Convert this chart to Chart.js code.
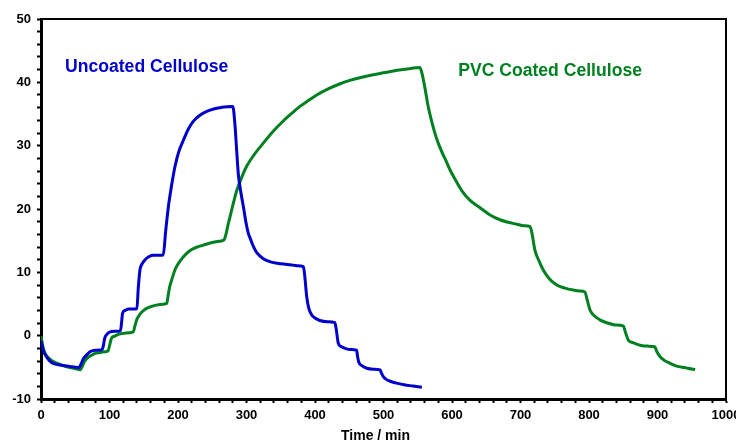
<!DOCTYPE html>
<html>
<head>
<meta charset="utf-8">
<script src="https://cdn.jsdelivr.net/npm/chart.js@4.4.1/dist/chart.umd.min.js"></script>
<style>
  html, body { margin: 0; padding: 0; background: #ffffff; }
  #wrap { width: 736px; height: 443px; position: relative; }
</style>
</head>
<body>
<div id="wrap"><canvas id="c" width="736" height="443"></canvas></div>
<script>
// ---- Data ----
const uncoatedTime = [0,3,6,12,18,28,38,48,55,58,62,67,72,80,89,91,93,97,101,108,116,118,119,123,128,134,140,142,144.5,148,152,158,164,172,178.5,182,186,190,195.6,201,208,215,222,232,242,252,264,272,280,283,285.5,288,291.5,295.4,299,302.6,306,310,315,324,334,345,355,364,374,383,385,387.9,391,395,400,407,418,429,431,434,438,444,452,460.8,462,464,468,475.5,485,495,497,500,504,510,519,530,543,556];
const uncoatedValue = [-0.8,-2.2,-3.0,-3.9,-4.4,-4.65,-4.8,-4.95,-5.05,-4.6,-3.6,-3.0,-2.5,-2.3,-2.2,-1.6,-0.4,0.3,0.6,0.7,0.75,2.5,3.5,4.0,4.2,4.2,4.25,7.5,10.4,11.4,12.0,12.5,12.7,12.7,12.75,16.5,20.4,23.3,26.7,29.0,30.9,32.6,33.8,34.8,35.4,35.8,36.05,36.15,36.2,33.5,29.5,25.6,22.8,20.4,18.0,16.2,15.2,14.1,13.1,12.2,11.7,11.45,11.3,11.2,11.05,10.9,9.5,6.15,4.3,3.3,2.8,2.4,2.2,2.05,1.0,-1.2,-1.7,-2.0,-2.2,-2.3,-3.2,-4.2,-4.7,-5.15,-5.3,-5.4,-5.9,-6.5,-6.9,-7.2,-7.5,-7.75,-7.95,-8.15];

const pvcTime = [0,3,6,12,18,28,38,48,57,60,63,67,72,79,88,98,100,103,107,113,122,134.8,137,140,142,146,150,154,162,172,183.5,186,188,190.8,195.6,200,206,212.7,220,228,237,250,260,267,270,273,276,281,286,293,300,310,324.5,340,353.7,366,378,390,402.5,420,435,451,470,485,500,520,540,553,556,560.6,565,570.4,577,585,590,597,605,615,626,641,655,670,682,694.5,705,714,717,721,727,733,742,753,765,777,786,794,797,801.5,808,816,827,838,850,853,857.4,864,874.5,886,896,899,903.6,910,918,928,940,952,955];
const pvcValue = [-0.1,-1.8,-2.8,-3.6,-4.1,-4.55,-4.9,-5.15,-5.4,-4.9,-4.2,-3.6,-3.2,-2.8,-2.6,-2.4,-1.6,-0.4,-0.1,0.2,0.4,0.6,1.5,2.6,3.0,3.6,4.0,4.3,4.65,4.9,5.1,6.6,7.8,8.8,10.4,11.3,12.2,13.0,13.6,14.0,14.3,14.7,14.9,15.1,16.0,17.5,18.8,21.0,23.0,25.0,26.7,28.4,30.4,32.4,33.9,35.1,36.2,37.1,38.0,39.0,39.7,40.3,40.85,41.2,41.5,41.9,42.2,42.35,41.5,39.05,36.3,33.8,31.3,29.05,27.9,26.2,24.6,22.8,21.4,20.2,19.1,18.3,17.9,17.6,17.35,17.2,16.0,13.5,11.8,10.4,9.0,8.0,7.5,7.2,7.05,6.9,5.8,4.05,3.1,2.5,2.0,1.7,1.55,0.6,-0.7,-1.1,-1.5,-1.65,-1.75,-2.5,-3.3,-3.9,-4.35,-4.8,-5.05,-5.3,-5.35];

const seriesNames = ["Uncoated Cellulose", "PVC Coated Cellulose"];
const seriesColors = ["#0000cc", "#008020"];
// label anchor positions in data units (time, value)
const labelTime = [35, 609];
const labelValue = [42.4, 41.8];

const xTitle = "Time / min";
const xMin = 0, xMax = 1000, xMajor = 100, xMinor = 20;
const yMin = -10, yMax = 50, yMajor = 10, yMinor = 2;

function pts(xs, ys) { return xs.map((x, i) => ({ x: x, y: ys[i] })); }

const FONT = "'Liberation Sans', Arial, sans-serif";

const framePlugin = {
  id: 'frame',
  afterDraw(chart) {
    const { ctx, chartArea: a } = chart;
    ctx.save();
    ctx.strokeStyle = '#000';
    ctx.lineWidth = 2;
    ctx.beginPath();
    ctx.moveTo(a.left, a.top);
    ctx.lineTo(a.right, a.top);
    ctx.lineTo(a.right, a.bottom);
    ctx.stroke();
    // axis title (slightly left of centre, as in the reference)
    ctx.fillStyle = '#000';
    ctx.font = "bold 14px " + FONT;
    ctx.textAlign = 'center';
    ctx.textBaseline = 'middle';
    ctx.fillText(xTitle, (a.left + a.right) / 2 - 8, chart.height - 7);
    ctx.restore();
  }
};

const labelPlugin = {
  id: 'seriesLabels',
  afterDatasetsDraw(chart) {
    const { ctx } = chart;
    const xs = chart.scales.x, ys = chart.scales.y;
    ctx.save();
    ctx.font = "bold 17.6px " + FONT;
    ctx.textAlign = 'left';
    ctx.textBaseline = 'middle';
    seriesNames.forEach((n, i) => {
      ctx.fillStyle = seriesColors[i];
      ctx.fillText(n, xs.getPixelForValue(labelTime[i]), ys.getPixelForValue(labelValue[i]));
    });
    ctx.restore();
  }
};

new Chart(document.getElementById('c'), {
  type: 'line',
  data: {
    datasets: [
      { label: seriesNames[0], data: pts(uncoatedTime, uncoatedValue), borderColor: seriesColors[0], borderWidth: 3, pointRadius: 0, cubicInterpolationMode: 'monotone', fill: false },
      { label: seriesNames[1], data: pts(pvcTime, pvcValue), borderColor: seriesColors[1], borderWidth: 3, pointRadius: 0, cubicInterpolationMode: 'monotone', fill: false }
    ]
  },
  options: {
    responsive: false,
    animation: false,
    devicePixelRatio: 1,
    layout: { padding: { top: 19, right: 10, left: 0, bottom: 0 } },
    plugins: { legend: { display: false }, tooltip: { enabled: false }, title: { display: false } },
    scales: {
      x: {
        type: 'linear', min: xMin, max: xMax,
        border: { display: true, color: '#000', width: 3 },
        grid: { drawOnChartArea: false, drawTicks: true, tickLength: 4, color: '#000', tickColor: '#000', tickWidth: 2 },
        ticks: {
          stepSize: xMinor, autoSkip: false, maxRotation: 0, padding: 5, color: '#000',
          font: { family: FONT, size: 13, weight: 'bold' },
          callback: (v) => (Math.round(v) % xMajor === 0 ? String(Math.round(v)) : '')
        },
        title: { display: false },
        afterFit(scale) { scale.height = 44; scale.paddingLeft = 0; scale.paddingRight = 0; }
      },
      y: {
        type: 'linear', min: yMin, max: yMax,
        border: { display: true, color: '#000', width: 3 },
        grid: { drawOnChartArea: false, drawTicks: true, tickLength: 4, color: '#000', tickColor: '#000', tickWidth: 2 },
        ticks: {
          stepSize: yMinor, autoSkip: false, padding: 6, color: '#000',
          font: { family: FONT, size: 13, weight: 'bold' },
          callback: (v) => (Math.round(v) % yMajor === 0 ? String(Math.round(v)) : '')
        },
        afterFit(scale) { scale.width = 41; scale.paddingTop = 0; scale.paddingBottom = 0; }
      }
    }
  },
  plugins: [framePlugin, labelPlugin]
});
</script>
</body>
</html>
